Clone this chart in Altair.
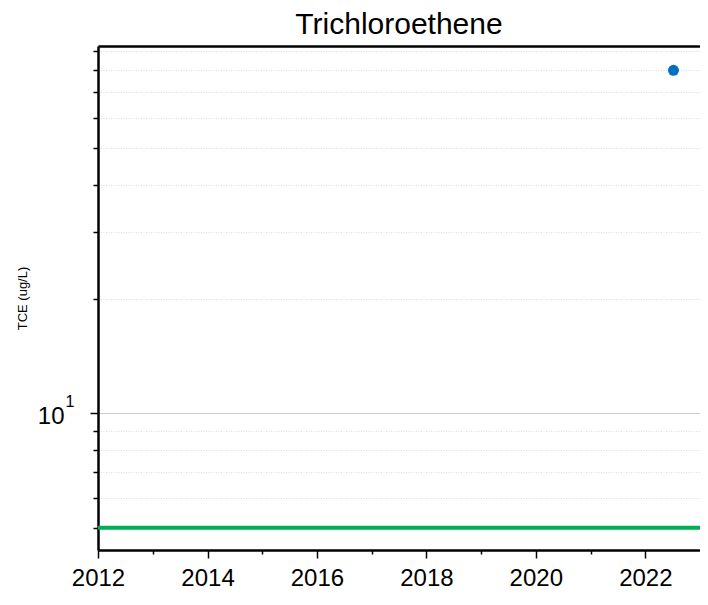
import altair as alt
import pandas as pd

# Data
sample_dates = ["2022-07-08"]
tce_values = [80.0]
mcl_value = [5.0]
y_tick_values = [5, 6, 7, 8, 9, 10, 20, 30, 40, 50, 60, 70, 80, 90]
x_tick_years = list(range(2012, 2023))
y_domain = [4.37, 92.7]

df = pd.DataFrame({"date": pd.to_datetime(sample_dates), "TCE": tce_values})
mcl_df = pd.DataFrame({"mcl": mcl_value})

FONT = "Liberation Sans"

x_scale = alt.Scale(domain=[alt.DateTime(year=2012, month=1, date=1),
                            alt.DateTime(year=2023, month=1, date=1)], nice=False)
y_scale = alt.Scale(type="log", domain=y_domain, nice=False)

x_axis = alt.Axis(
    title=None,
    values=[alt.DateTime(year=y, month=1, date=1) for y in x_tick_years],
    labelExpr="year(datum.value) % 2 == 0 ? timeFormat(datum.value, '%Y') : ''",
    labelFont=FONT, labelFontSize=24, labelColor="black", labelPadding=8,
    labelFlush=False, labelOverlap=False,
    tickColor="black", tickWidth=1.5,
    tickSize={"condition": {"test": "year(datum.value) % 2 == 1", "value": 4}, "value": 8},
    domainColor="black", domainWidth=2.5, grid=False,
)

y_axis = alt.Axis(
    title="TCE (ug/L)",
    titleFont=FONT, titleFontSize=13, titleFontWeight="normal", titleColor="black",
    titleX=-76, titleY=252, titleAngle=-90, titleAlign="center", titleBaseline="middle",
    values=y_tick_values,
    labelExpr="datum.value == 10 ? '10' : ''",
    labelFont=FONT, labelFontSize=24, labelColor="black", labelPadding=26,
    labelOffset=3,
    labelOverlap=False, labelFlush=False,
    tickColor="black", tickWidth=1.5,
    tickSize={"condition": {"test": "datum.value == 10", "value": 8}, "value": 5},
    domainColor="black", domainWidth=2.5,
    grid=True,
    gridColor={"condition": {"test": "datum.value == 10", "value": "#cccccc"}, "value": "#dddddd"},
    gridDash={"condition": {"test": "datum.value == 10", "value": []}, "value": [1, 1.5]},
    gridWidth=1,
)

mcl = alt.Chart(mcl_df).mark_rule(color="#00b050", strokeWidth=4).encode(
    y=alt.Y("mcl:Q", scale=y_scale, axis=y_axis)
)

points = alt.Chart(df).mark_circle(color="#0070c0", opacity=1, size=120).encode(
    x=alt.X("date:T", scale=x_scale, axis=x_axis),
    y=alt.Y("TCE:Q", scale=y_scale, axis=y_axis),
)

# superscript exponent of the "10" tick label
exponent = alt.Chart(mcl_df).mark_text(
    text="1", font=FONT, fontSize=16, color="black",
    align="center", baseline="middle", dy=-11,
).encode(
    y=alt.YDatum(10, type="quantitative", scale=y_scale, axis=y_axis),
    x=alt.value(-28),
)

top_border = alt.Chart(df).mark_circle(opacity=0).encode(
    x=alt.X("date:T", scale=x_scale,
            axis=alt.Axis(orient="top", title=None, labels=False, ticks=False,
                          grid=False, domainColor="black", domainWidth=2.5)),
    y=alt.Y("TCE:Q", scale=y_scale, axis=y_axis),
)

chart = (
    alt.layer(mcl, points, exponent, top_border)
    .resolve_axis(x="independent")
    .properties(
        width=602,
        height=504,
        title=alt.TitleParams("Trichloroethene", font=FONT, fontSize=30,
                              fontWeight="normal", color="black",
                              anchor="middle", frame="group", offset=2),
        autosize=alt.AutoSizeParams(type="none"),
        padding={"left": 90, "top": 38, "right": 0, "bottom": 45},
    )
    .configure_view(stroke="#bbbbbb", strokeWidth=1)
    .configure(background="white")
)

chart.save("out.html", embed_options={"renderer": "svg", "actions": False})
